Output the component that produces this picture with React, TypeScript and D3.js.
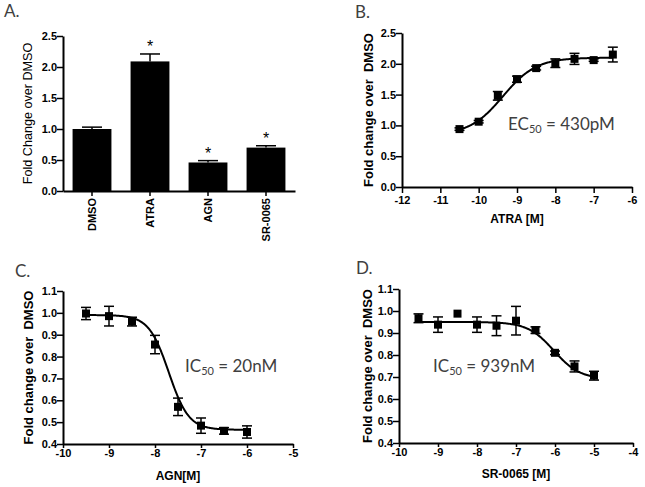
import React, { useEffect, useRef } from "react";
import * as d3 from "d3";

// ---------- Data ----------
// Panel A (bar chart)
const barCategories = ["DMSO", "ATRA", "AGN", "SR-0065"];
const barValues = [1.0, 2.09, 0.46, 0.7];
const barErrors = [0.03, 0.12, 0.03, 0.03];
const barStars = [false, true, true, true];
const barYTicks = [0, 0.5, 1.0, 1.5, 2.0, 2.5];

// Panel B (ATRA)
const atraLogConc = [-10.5, -10, -9.5, -9, -8.5, -8, -7.5, -7, -6.5];
const atraValues = [0.94, 1.06, 1.48, 1.75, 1.93, 2.01, 2.08, 2.06, 2.15];
const atraErrors = [0.02, 0.02, 0.07, 0.05, 0.03, 0.07, 0.09, 0.02, 0.12];
const atraFit = { bottom: 0.845, top: 2.1, logX50: -9.367, hill: 1.0 };
const atraXTicks = [-12, -11, -10, -9, -8, -7, -6];
const atraYTicks = [0, 0.5, 1.0, 1.5, 2.0, 2.5];

// Panel C (AGN)
const agnLogConc = [-9.5, -9, -8.5, -8, -7.5, -7, -6.5, -6];
const agnValues = [0.997, 0.985, 0.96, 0.855, 0.57, 0.484, 0.46, 0.455];
const agnErrors = [0.028, 0.045, 0.02, 0.042, 0.04, 0.035, 0.015, 0.028];
const agnFit = { bottom: 0.465, top: 0.99, logX50: -7.7, hill: -2.0 };
const agnXTicks = [-10, -9, -8, -7, -6, -5];
const agnYTicks = [0.4, 0.5, 0.6, 0.7, 0.8, 0.9, 1.0, 1.1];

// Panel D (SR-0065)
const srLogConc = [-9.5, -9, -8.5, -8, -7.5, -7, -6.5, -6, -5.5, -5];
const srValues = [0.967, 0.938, 0.988, 0.938, 0.933, 0.956, 0.913, 0.81, 0.748, 0.706];
const srErrors = [0.02, 0.035, 0, 0.035, 0.045, 0.065, 0.015, 0.008, 0.025, 0.02];
const srFit = { bottom: 0.69, top: 0.95, logX50: -6.03, hill: -1.3 };
const srXTicks = [-10, -9, -8, -7, -6, -5, -4];
const srYTicks = [0.4, 0.5, 0.6, 0.7, 0.8, 0.9, 1.0, 1.1];

const TICK_FONT = "'Liberation Sans', Arial, sans-serif";
const NOTE_FONT = "Lato, 'Open Sans', sans-serif";
const NOTE_COLOR = "#404040";

type Fit = { bottom: number; top: number; logX50: number; hill: number };

function fitValue(f: Fit, x: number) {
  return f.bottom + (f.top - f.bottom) / (1 + Math.pow(10, (f.logX50 - x) * f.hill));
}

function styleAxis(g: d3.Selection<SVGGElement, unknown, null, undefined>, fontSize = 11) {
  g.selectAll("path.domain").attr("stroke", "#000").attr("stroke-width", 2);
  g.selectAll(".tick line").attr("stroke", "#000").attr("stroke-width", 1.5);
  g.selectAll(".tick text")
    .attr("font-family", TICK_FONT)
    .attr("font-size", fontSize)
    .attr("font-weight", "bold")
    .attr("fill", "#000");
}

type DoseCfg = {
  xs: number[];
  ys: number[];
  errs: number[];
  fit: Fit;
  xDomain: [number, number];
  xRange: [number, number];
  yDomain: [number, number];
  yRange: [number, number];
  xTicks: number[];
  yTicks: number[];
  xTickSize: number;
  xTickPad: number;
  yTitle: string;
  yTitleX: number;
  xTitle: string;
  xTitleY: number;
  label: string;
  labelX: number;
  labelY: number;
  noteMain: string;
  noteSub: string;
  noteRest: string;
  noteX: number;
  noteY: number;
};

function drawDose(svg: d3.Selection<SVGSVGElement, unknown, null, undefined>, c: DoseCfg) {
  const x = d3.scaleLinear().domain(c.xDomain).range(c.xRange);
  const y = d3.scaleLinear().domain(c.yDomain).range(c.yRange);
  const g = svg.append("g");

  const gx = g
    .append("g")
    .attr("transform", `translate(0,${c.yRange[0]})`)
    .call(
      d3.axisBottom(x).tickValues(c.xTicks).tickSize(c.xTickSize).tickSizeOuter(0).tickPadding(c.xTickPad)
        .tickFormat((d) => String(d))
    );
  styleAxis(gx);
  const gy = g
    .append("g")
    .attr("transform", `translate(${c.xRange[0]},0)`)
    .call(
      d3.axisLeft(y).tickValues(c.yTicks).tickSize(6).tickSizeOuter(0).tickPadding(0)
        .tickFormat((d) => d3.format(".1f")(d as number))
    );
  styleAxis(gy);

  // fitted curve
  const x0 = d3.min(c.xs)!;
  const x1 = d3.max(c.xs)!;
  const samples = d3.range(0, 201).map((i) => x0 + ((x1 - x0) * i) / 200);
  const line = d3
    .line<number>()
    .x((d) => x(d))
    .y((d) => y(fitValue(c.fit, d)));
  g.append("path").attr("d", line(samples)).attr("fill", "none").attr("stroke", "#000").attr("stroke-width", 2);

  // error bars
  const eb = g.append("g").attr("stroke", "#000").attr("stroke-width", 1.5);
  c.xs.forEach((xv, i) => {
    const e = c.errs[i];
    if (e <= 0) return;
    const px = x(xv);
    const yt = y(c.ys[i] + e);
    const yb = y(c.ys[i] - e);
    eb.append("line").attr("x1", px).attr("x2", px).attr("y1", yt).attr("y2", yb);
    eb.append("line").attr("x1", px - 5).attr("x2", px + 5).attr("y1", yt).attr("y2", yt);
    eb.append("line").attr("x1", px - 5).attr("x2", px + 5).attr("y1", yb).attr("y2", yb);
  });

  // markers
  const ms = 8;
  g.append("g")
    .selectAll("rect")
    .data(c.xs)
    .join("rect")
    .attr("x", (d) => x(d) - ms / 2)
    .attr("y", (_d, i) => y(c.ys[i]) - ms / 2)
    .attr("width", ms)
    .attr("height", ms)
    .attr("fill", "#000");

  // titles
  g.append("text")
    .attr("transform", `translate(${c.yTitleX},${(c.yRange[0] + c.yRange[1]) / 2}) rotate(-90)`)
    .attr("text-anchor", "middle")
    .attr("dy", "0.35em")
    .attr("font-family", TICK_FONT)
    .attr("font-size", 13)
    .attr("font-weight", "bold")
    .attr("xml:space", "preserve")
    .style("white-space", "pre")
    .text(c.yTitle);
  g.append("text")
    .attr("x", (c.xRange[0] + c.xRange[1]) / 2)
    .attr("y", c.xTitleY)
    .attr("text-anchor", "middle")
    .attr("font-family", TICK_FONT)
    .attr("font-size", 12)
    .attr("font-weight", "bold")
    .text(c.xTitle);

  // panel label
  svg.append("text")
    .attr("x", c.labelX)
    .attr("y", c.labelY)
    .attr("font-family", NOTE_FONT)
    .attr("font-size", 17)
    .attr("fill", NOTE_COLOR)
    .text(c.label);

  // annotation
  const t = svg.append("text")
    .attr("x", c.noteX)
    .attr("y", c.noteY)
    .attr("font-family", NOTE_FONT)
    .attr("font-size", 17)
    .attr("fill", NOTE_COLOR);
  t.append("tspan").text(c.noteMain);
  t.append("tspan").attr("font-size", 11).attr("dy", 3).text(c.noteSub);
  t.append("tspan").attr("dy", -3).text(c.noteRest);
}

function drawBars(svg: d3.Selection<SVGSVGElement, unknown, null, undefined>) {
  const x = d3.scaleBand<string>().domain(barCategories).range([63, 295]).paddingInner(0.33).paddingOuter(0.165);
  const y = d3.scaleLinear().domain([0, 2.5]).range([191, 36]);
  const g = svg.append("g");

  // error bars (upward)
  const eb = g.append("g").attr("stroke", "#000").attr("stroke-width", 1.5);
  barCategories.forEach((c, i) => {
    const cx = x(c)! + x.bandwidth() / 2;
    const yt = y(barValues[i] + barErrors[i]);
    eb.append("line").attr("x1", cx).attr("x2", cx).attr("y1", yt).attr("y2", y(barValues[i]));
    eb.append("line").attr("x1", cx - 10).attr("x2", cx + 10).attr("y1", yt).attr("y2", yt);
  });

  g.append("g")
    .selectAll("rect")
    .data(barCategories)
    .join("rect")
    .attr("x", (d) => x(d)!)
    .attr("y", (_d, i) => y(barValues[i]))
    .attr("width", x.bandwidth())
    .attr("height", (_d, i) => y(0) - y(barValues[i]))
    .attr("fill", "#000");

  // stars
  barCategories.forEach((c, i) => {
    if (!barStars[i]) return;
    const cx = x(c)! + x.bandwidth() / 2;
    g.append("text")
      .attr("x", cx)
      .attr("y", y(barValues[i] + barErrors[i]) - 2)
      .attr("text-anchor", "middle")
      .attr("font-family", TICK_FONT)
      .attr("font-size", 16)
      .attr("fill", "#000")
      .text("*");
  });

  const gx = g.append("g").attr("transform", `translate(0,${y(0)})`)
    .call(d3.axisBottom(x).tickSize(5).tickSizeOuter(0).tickPadding(3));
  styleAxis(gx);
  gx.selectAll(".tick text")
    .attr("transform", "rotate(-90)")
    .attr("text-anchor", "end")
    .attr("x", -7)
    .attr("y", 0)
    .attr("dy", "0.35em");

  const gy = g.append("g").attr("transform", `translate(63,0)`)
    .call(d3.axisLeft(y).tickValues(barYTicks).tickSize(6).tickSizeOuter(0).tickPadding(0)
      .tickFormat((d) => d3.format(".1f")(d as number)));
  styleAxis(gy);

  g.append("text")
    .attr("transform", `translate(28,${(191 + 36) / 2}) rotate(-90)`)
    .attr("text-anchor", "middle")
    .attr("dy", "0.35em")
    .attr("font-family", TICK_FONT)
    .attr("font-size", 12.6)
    .text("Fold Change over DMSO");

  svg.append("text")
    .attr("x", 4)
    .attr("y", 17)
    .attr("font-family", NOTE_FONT)
    .attr("font-size", 17)
    .attr("fill", NOTE_COLOR)
    .text("A.");
}

export default function App() {
  const ref = useRef<SVGSVGElement | null>(null);
  useEffect(() => {
    if (!ref.current) return;
    const svg = d3.select(ref.current);
    svg.selectAll("*").remove();
    svg.append("rect").attr("width", 645).attr("height", 487).attr("fill", "#fff");

    drawBars(svg);

    drawDose(svg, {
      xs: atraLogConc, ys: atraValues, errs: atraErrors, fit: atraFit,
      xDomain: [-12, -6], xRange: [402, 632], yDomain: [0, 2.5], yRange: [187, 33],
      xTicks: atraXTicks, yTicks: atraYTicks, xTickSize: 6, xTickPad: 3,
      yTitle: "Fold change over  DMSO", yTitleX: 368,
      xTitle: "ATRA [M]", xTitleY: 223,
      label: "B.", labelX: 355, labelY: 18,
      noteMain: "EC", noteSub: "50", noteRest: " = 430pM", noteX: 508, noteY: 130,
    });

    drawDose(svg, {
      xs: agnLogConc, ys: agnValues, errs: agnErrors, fit: agnFit,
      xDomain: [-10, -5], xRange: [63, 293], yDomain: [0.4, 1.1], yRange: [444, 291],
      xTicks: agnXTicks, yTicks: agnYTicks, xTickSize: 4, xTickPad: 1,
      yTitle: "Fold change over  DMSO", yTitleX: 28,
      xTitle: "AGN[M]", xTitleY: 480,
      label: "C.", labelX: 15, labelY: 277,
      noteMain: "IC", noteSub: "50", noteRest: " = 20nM", noteX: 185, noteY: 372,
    });

    drawDose(svg, {
      xs: srLogConc, ys: srValues, errs: srErrors, fit: srFit,
      xDomain: [-10, -4], xRange: [399, 633], yDomain: [0.4, 1.1], yRange: [443, 289],
      xTicks: srXTicks, yTicks: srYTicks, xTickSize: 4, xTickPad: 1,
      yTitle: "Fold change over  DMSO", yTitleX: 367,
      xTitle: "SR-0065 [M]", xTitleY: 478,
      label: "D.", labelX: 356, labelY: 274,
      noteMain: "IC", noteSub: "50", noteRest: " = 939nM", noteX: 433, noteY: 372,
    });
  }, []);

  return (
    <svg
      ref={ref}
      width={645}
      height={487}
      style={{ position: "absolute", left: 0, top: 0, display: "block" }}
    />
  );
}
